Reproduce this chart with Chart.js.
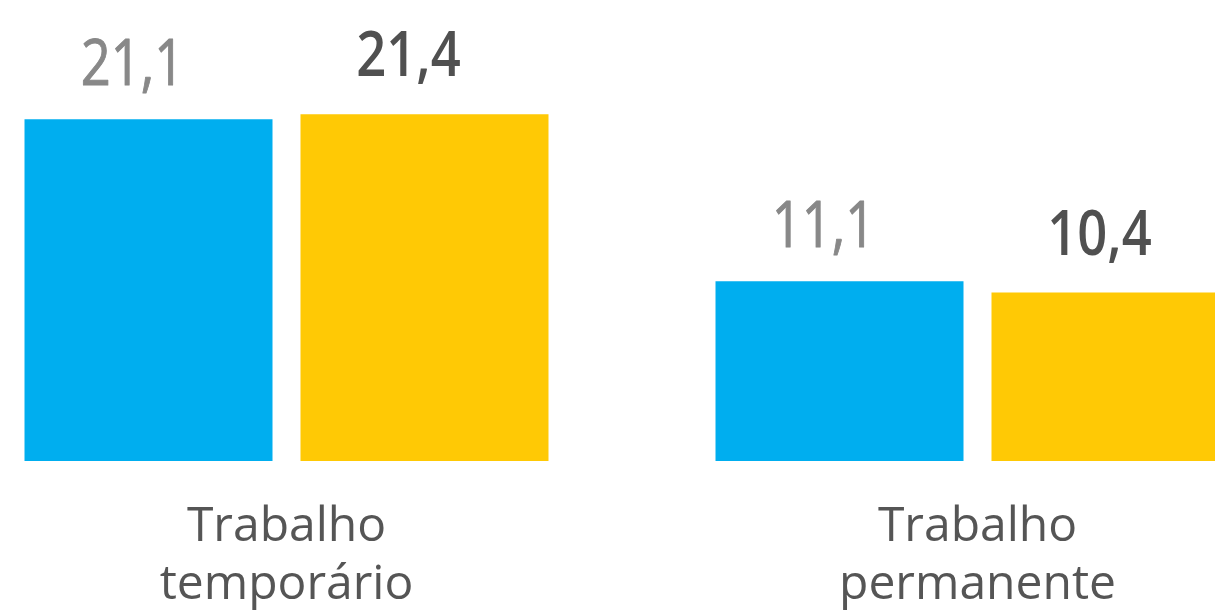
<!DOCTYPE html>
<html>
<head>
<meta charset="utf-8">
<script src="https://cdn.jsdelivr.net/npm/chart.js@4"></script>
<style>
  html, body { margin: 0; padding: 0; background: #fff; overflow: hidden; }
  body { width: 1215px; height: 612px; position: relative; }
  .wrap { position: absolute; left: -59px; top: 0; width: 1382px; height: 612px; }
</style>
</head>
<body>
<div class="wrap"><canvas id="chart"></canvas></div>
<script>
const CATEGORIES = [['Trabalho', 'temporário'], ['Trabalho', 'permanente']]
const SERIES_A   = [21.1, 11.1]
const SERIES_B   = [21.4, 10.4]

const BLUE   = '#00aeef'
const YELLOW = '#ffc905'

function fmt(v) {
  return v.toLocaleString('pt-BR', { minimumFractionDigits: 1, maximumFractionDigits: 1 })
}

// value labels above each bar, slightly narrowed like the original artwork
const valueLabels = {
  id: 'valueLabels',
  afterDatasetsDraw(chart) {
    const ctx = chart.ctx
    chart.data.datasets.forEach((ds, i) => {
      const meta = chart.getDatasetMeta(i)
      meta.data.forEach((bar, j) => {
        const txt = fmt(ds.data[j])
        ctx.save()
        ctx.translate(bar.x - 16, bar.y - ds.labelGap)
        ctx.scale(0.82, 1)
        ctx.font = `${ds.labelWeight} 64px "Open Sans"`
        ctx.fillStyle = ds.labelColor
        ctx.textAlign = 'center'
        ctx.textBaseline = 'alphabetic'
        ctx.fillText(txt, 0, 0)
        if (ds.labelStroke) {
          ctx.strokeStyle = ds.labelColor
          ctx.lineWidth = ds.labelStroke
          ctx.lineJoin = 'round'
          ctx.strokeText(txt, 0, 0)
        }
        ctx.restore()
      })
    })
  }
}

new Chart(document.getElementById('chart'), {
  type: 'bar',
  data: {
    labels: CATEGORIES,
    datasets: [
      { data: SERIES_A, backgroundColor: BLUE,   labelColor: '#888888', labelWeight: 400, labelStroke: 1,
        labelGap: 34, barPercentage: 0.8986, categoryPercentage: 0.7988 },
      { data: SERIES_B, backgroundColor: YELLOW, labelColor: '#505050', labelWeight: 600, labelStroke: 0,
        labelGap: 38, barPercentage: 0.8986, categoryPercentage: 0.7988 },
    ]
  },
  options: {
    responsive: true,
    maintainAspectRatio: false,
    animation: false,
    layout: { padding: 0 },
    plugins: { legend: { display: false }, tooltip: { enabled: false } },
    scales: {
      x: {
        grid: { display: false, drawTicks: false },
        border: { display: false },
        afterFit: s => { s.height = 151 },
        ticks: {
          color: '#555555',
          padding: 38,
          maxRotation: 0,
          font: { size: 48, family: 'Open Sans', lineHeight: 1.2 }
        }
      },
      y: { display: false, min: 0, max: 28.46 }
    }
  },
  plugins: [valueLabels]
})
</script>
</body>
</html>
